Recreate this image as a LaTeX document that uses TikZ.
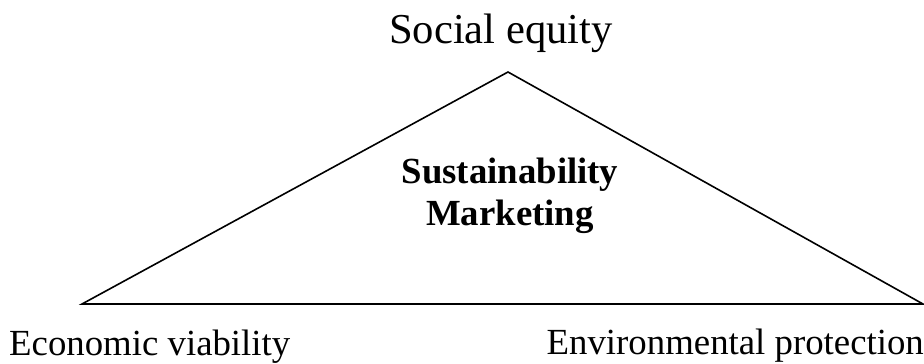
\documentclass[tikz,border=0pt]{standalone}
\usepackage{fontspec}
\setmainfont{Liberation Serif}
\begin{document}
\begin{tikzpicture}[x=1pt,y=-1pt,
  corner/.style={font=\fontsize{36.8}{40}\selectfont, inner sep=0pt},
  title/.style={font=\fontsize{42.6}{46}\selectfont, inner sep=0pt},
  centre/.style={font=\fontsize{36.8}{40}\selectfont\bfseries, inner sep=0pt},
  edge/.style={line width=1.6pt, line join=miter}]
  \useasboundingbox (0,0) rectangle (924,364);
  % triangle vertices
  \coordinate (top) at (508,72);
  \coordinate (left) at (82,304);
  \coordinate (right) at (923,304);
  \draw[edge] (top) -- (left) -- (right) -- cycle;
  % labels
  \node[title, anchor=base] (social) at (501,43) {Social equity};
  \node[centre, anchor=base] (sust) at (510,183) {Sustainability};
  \node[centre, anchor=base] (mkt) at (510,225) {Marketing};
  \node[corner, anchor=base west] (econ) at (9,355) {Economic viability};
  \node[corner, anchor=base east] (env) at (924,354) {Environmental protection};
\end{tikzpicture}
\end{document}
